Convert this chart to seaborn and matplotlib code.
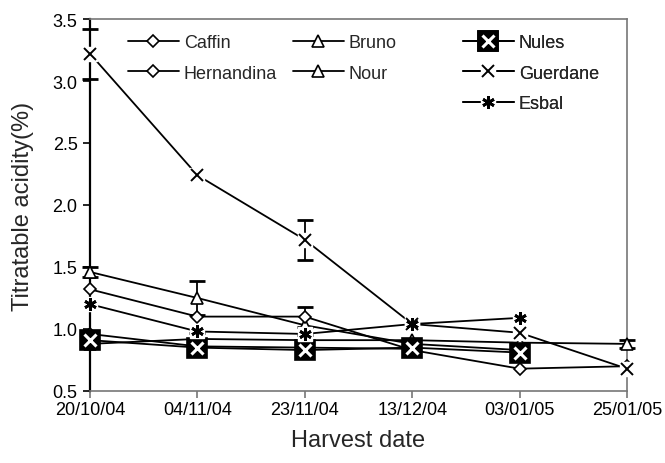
import numpy as np
import matplotlib
matplotlib.use("Agg")
import matplotlib.pyplot as plt
import seaborn as sns
from matplotlib.lines import Line2D

# harvest dates (categorical x axis)
dates = ["20/10/04", "04/11/04", "23/11/04", "13/12/04", "03/01/05", "25/01/05"]

# titratable acidity (%) per cultivar
caffin = [1.32, 1.10, 1.10, 0.83, 0.68, 0.70]
hernandina = [0.96, 0.86, 0.85, 0.84, np.nan, np.nan]
bruno = [1.46, 1.25, 1.03, 0.88, 0.83, np.nan]
nour = [0.88, 0.92, 0.91, 0.91, 0.89, 0.88]
nules = [0.91, 0.85, 0.83, 0.85, 0.81, np.nan]
guerdane = [3.22, 2.24, 1.72, 1.04, 0.97, 0.68]
esbal = [1.20, 0.98, 0.96, 1.04, 1.09, np.nan]

# error bars (0 = none drawn)
guerdane_err = [0.20, 0, 0.16, 0, 0, 0]
bruno_err = [0.04, 0.14, 0, 0, 0, 0]
caffin_err = [0, 0, 0.08, 0, 0, 0]
nour_err = [0, 0.05, 0.04, 0, 0, 0.03]

sns.set_style("ticks")
plt.rcParams["font.family"] = ["Liberation Sans", "DejaVu Sans"]

fig = plt.figure(figsize=(6.65, 4.64), dpi=100)
ax = fig.add_axes([90 / 665, 72 / 464, 537 / 665, 372 / 464])
x = np.arange(len(dates))
LW = 1.3
ASTER = (6, 2, 0)


def draw(vals, marker, ms, mfc="white", mec="black", mew=1.2, bg=False, z=3):
    y = np.array(vals, float)
    sns.lineplot(x=x, y=y, ax=ax, color="black", lw=LW, errorbar=None,
                 sort=False, zorder=z, clip_on=False)
    if bg:
        ax.plot(x, y, ls="none", marker="s", ms=ms + 1, mfc="white", mec="white",
                zorder=z + 0.1, clip_on=False)
    ax.plot(x, y, ls="none", marker=marker, ms=ms, mfc=mfc, mec=mec, mew=mew,
            zorder=z + 0.2, clip_on=False)


def errs(vals, err, z=3):
    y = np.array(vals, float)
    e = np.array(err, float)
    m = e > 0
    ax.errorbar(x[m], y[m], yerr=e[m], fmt="none", ecolor="black",
                elinewidth=1.3, capsize=6, capthick=2, zorder=z, clip_on=False)


draw(nour, "^", 8, z=3)
draw(hernandina, "D", 6.5, z=3)
draw(bruno, "^", 8, z=4)
draw(caffin, "D", 6.5, z=4)
draw(nules, "s", 15, mfc="black", mec="black", z=5)
ax.plot(x, nules, ls="none", marker="x", ms=8, mec="white", mew=2.2, zorder=5.5, clip_on=False)
draw(esbal, ASTER, 9, mew=2, bg=True, z=6)
draw(guerdane, "x", 9, mew=1.4, bg=True, z=6)

errs(guerdane, guerdane_err, z=6)
errs(bruno, bruno_err, z=4)
errs(caffin, caffin_err, z=4)
errs(nour, nour_err, z=3)

ax.set_xlim(0, len(dates) - 1)
ax.set_ylim(0.5, 3.5)
ax.set_xticks(x)
ax.set_xticklabels(dates)
ax.set_yticks(np.arange(0.5, 3.51, 0.5))
ax.set_yticklabels([f"{v:.1f}" for v in np.arange(0.5, 3.51, 0.5)])
ax.tick_params(axis="both", labelsize=13, direction="out", length=5, width=1.2,
               colors="black", pad=4)
ax.tick_params(axis="x", color="#777777", pad=2)
ax.set_xlabel("Harvest date", fontsize=17, labelpad=8)
ax.set_ylabel("Titratable acidity(%)", fontsize=17, labelpad=13)

for side in ["top", "right", "bottom"]:
    ax.spines[side].set_color("#777777")
    ax.spines[side].set_linewidth(1.2)
ax.spines["left"].set_color("black")
ax.spines["left"].set_linewidth(1.6)


def h_line(marker, ms, mfc="white", mec="black", mew=1.2):
    return Line2D([], [], color="black", lw=LW, marker=marker, ms=ms,
                  mfc=mfc, mec=mec, mew=mew)


def h_gap(marker, ms, mew):
    return (Line2D([], [], color="black", lw=LW, marker="s", ms=ms + 1,
                   mfc="white", mec="white"),
            Line2D([], [], ls="none", marker=marker, ms=ms, mec="black", mew=mew))


h_nules = (h_line("s", 15, mfc="black"),
           Line2D([], [], ls="none", marker="x", ms=8, mec="white", mew=2.2))

cols = [
    ([h_line("D", 6.5), h_line("D", 6.5)], ["Caffin", "Hernandina"], 128),
    ([h_line("^", 8), h_line("^", 8)], ["Bruno", "Nour"], 293),
    ([h_nules, h_gap("x", 9, 1.4), h_gap(ASTER, 9, 2)], ["Nules", "Guerdane", "Esbal"], 463),
]
for handles, labels, px in cols:
    leg = ax.legend(handles, labels, loc="upper left",
                    bbox_to_anchor=(px / 665, 1 - 35 / 464),
                    bbox_transform=fig.transFigure, frameon=False, fontsize=13,
                    handlelength=2.8, handletextpad=0.3, labelspacing=0.75,
                    borderpad=0, borderaxespad=0)
    ax.add_artist(leg)

fig.savefig("out.png", dpi=100)
